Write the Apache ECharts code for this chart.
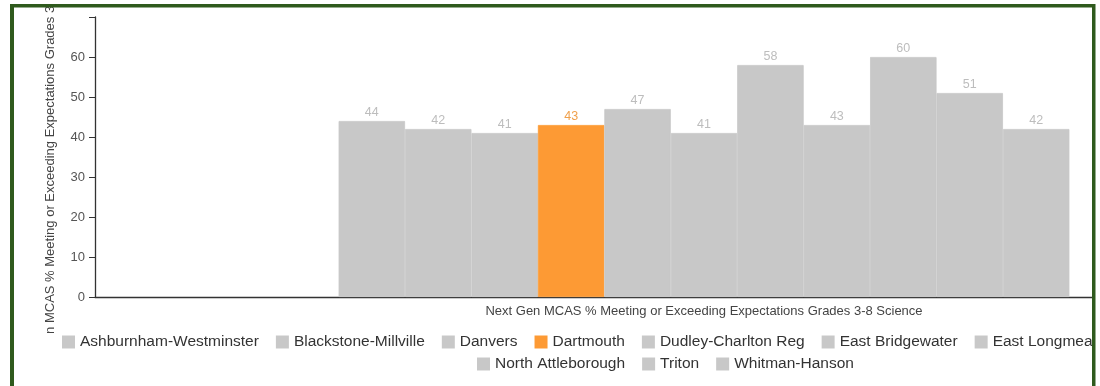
<!DOCTYPE html>
<html>
<head>
<meta charset="utf-8">
<script src="https://cdn.jsdelivr.net/npm/echarts@6/dist/echarts.min.js"></script>
<style>
html,body{margin:0;padding:0;background:#fff;}
#chart{width:1100px;height:386px;}
</style>
</head>
<body>
<div id="chart"></div>
<script>
const category = ['Next Gen MCAS % Meeting or Exceeding Expectations Grades 3-8 Science'];
const districts = ['Ashburnham-Westminster','Blackstone-Millville','Danvers','Dartmouth','Dudley-Charlton Reg','East Bridgewater','East Longmeadow','Hampden-Wilbraham','North Attleborough','Triton','Whitman-Hanson'];
const values = [44, 42, 41, 43, 47, 41, 58, 43, 60, 51, 42];
const highlight = 'Dartmouth';
const yTicks = [0, 10, 20, 30, 40, 50, 60];
const legendRow1 = districts.slice(0, 8);
const legendRow2 = districts.slice(8);

const GRAY = '#c8c8c8', ORANGE = '#fd9a34';
const FONT = '"Liberation Sans", Arial, sans-serif';

const series = districts.map((name, i) => {
  const hl = name === highlight;
  const c = hl ? ORANGE : GRAY;
  return {
    name: name,
    type: 'bar',
    barGap: '0%',
    barCategoryGap: '40%',
    data: [values[i]],
    itemStyle: { color: c, borderColor: c, borderWidth: 0.8 },
    label: {
      show: true, position: 'top', distance: 2,
      color: hl ? '#f0a04b' : '#bdbdbd', fontSize: 12.5, fontFamily: FONT
    },
    emphasis: { disabled: true },
    animation: false
  };
});

const legendCommon = {
  orient: 'horizontal', width: 2000, icon: 'rect',
  itemWidth: 13, itemHeight: 13, itemGap: 17, padding: 0,
  itemStyle: { borderWidth: 0 },
  textStyle: { fontSize: 15.5, color: '#333', fontFamily: FONT },
  selectedMode: false
};

const chart = echarts.init(document.getElementById('chart'));
chart.setOption({
  animation: false,
  textStyle: { fontFamily: FONT },
  grid: { left: 95, right: -213, top: 17, bottom: 89, containLabel: false, outerBoundsMode: 'none' },
  xAxis: {
    type: 'category', data: category,
    axisLine: { lineStyle: { color: '#333', width: 1.3 } },
    axisTick: { show: false },
    axisLabel: { color: '#444', fontSize: 13, margin: 8, fontFamily: FONT }
  },
  yAxis: {
    type: 'value', min: 0, max: 70, interval: 10,
    name: category[0], nameLocation: 'middle', nameRotate: 90, nameGap: 38,
    nameTextStyle: { color: '#444', fontSize: 13, fontFamily: FONT, padding: [0, 12, 0, 0] },
    axisLine: { show: true, lineStyle: { color: '#333', width: 1.3 } },
    axisTick: { show: true, length: 6, lineStyle: { color: '#333' } },
    axisLabel: {
      color: '#555', fontSize: 13, margin: 10, fontFamily: FONT,
      formatter: v => (yTicks.indexOf(v) >= 0 ? String(v) : '')
    },
    splitLine: { show: false }
  },
  legend: [
    Object.assign({ data: legendRow1, left: 62, top: 334 }, legendCommon),
    Object.assign({ data: legendRow2, left: 477, top: 356 }, legendCommon)
  ],
  series: series,
  graphic: [
    { type: 'rect', z: 100, shape: { x: 15, y: 333, width: 45, height: 53 }, style: { fill: '#fff' } },
    { type: 'rect', z: 100, shape: { x: 14, y: 0, width: 1090, height: 4 }, style: { fill: '#fff' } },
    { type: 'rect', z: 100, shape: { x: 1095, y: 0, width: 10, height: 386 }, style: { fill: '#fff' } },
    { type: 'rect', z: 101, shape: { x: 10, y: 4, width: 1085, height: 3.5 }, style: { fill: '#2f5a1d' } },
    { type: 'rect', z: 101, shape: { x: 10, y: 4, width: 4, height: 382 }, style: { fill: '#2f5a1d' } },
    { type: 'rect', z: 101, shape: { x: 1092, y: 4, width: 3.5, height: 382 }, style: { fill: '#2f5a1d' } },
    { type: 'rect', z: 100, shape: { x: 0, y: 0, width: 10, height: 386 }, style: { fill: '#fff' } }
  ]
});
</script>
</body>
</html>
